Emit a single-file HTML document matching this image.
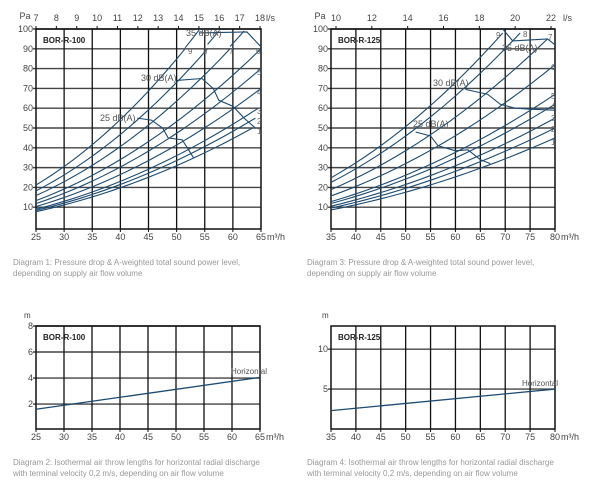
<!DOCTYPE html>
<html><head><meta charset="utf-8"><style>
body{margin:0;background:#fff;width:600px;height:493px;overflow:hidden}
svg{display:block;font-family:"Liberation Sans",sans-serif}
</style></head><body>
<svg id="s" width="600" height="493" viewBox="0 0 600 493" xmlns="http://www.w3.org/2000/svg">
<g font-size="8" fill="#999">
<text x="13" y="265">Diagram 1: Pressure drop &amp; A-weighted total sound power level,</text>
<text x="13" y="276">depending on supply air flow volume</text>
<text x="307" y="265">Diagram 3: Pressure drop &amp; A-weighted total sound power level,</text>
<text x="307" y="276">depending on supply air flow volume</text>
<text x="13" y="465">Diagram 2: Isothermal air throw lengths for horizontal radial discharge</text>
<text x="13" y="476">with terminal velocity 0,2 m/s, depending on air flow volume</text>
<text x="307" y="465">Diagram 4: Isothermal air throw lengths for horizontal radial discharge</text>
<text x="307" y="476">with terminal velocity 0,2 m/s, depending on air flow volume</text>
</g>
</svg>
<script>
var S=document.getElementById('s'),NS='http://www.w3.org/2000/svg';
function el(t,a,txt){var e=document.createElementNS(NS,t);for(var k in a)e.setAttribute(k,a[k]);if(txt!=null)e.textContent=txt;S.appendChild(e);return e;}
function chart(c){
 var X=function(q){return c.L+(q-c.x0)/(c.x1-c.x0)*(c.R-c.L)};
 var Y=function(v){return c.B-(v-c.y0)/(c.y1-c.y0)*(c.B-c.T)};
 c.X=X;c.Y=Y;
 c.yt.forEach(function(v){el('line',{x1:c.L-3,x2:c.R,y1:Y(v),y2:Y(v),stroke:'#444','stroke-width':1.4});
  el('text',{x:c.L-3,y:Y(v)+3,'font-size':9,fill:'#444','text-anchor':'end'},v)});
 for(var q=c.x0+c.dx;q<c.x1;q+=c.dx)el('line',{x1:X(q),x2:X(q),y1:c.T,y2:c.B,stroke:'#111','stroke-width':1.3});
 el('rect',{x:c.L,y:c.T,width:c.R-c.L,height:c.B-c.T,fill:'none',stroke:'#111','stroke-width':1.5});
 for(var q=c.x0;q<=c.x1;q+=c.dx){el('line',{x1:X(q),x2:X(q),y1:c.B,y2:c.B+3,stroke:'#111'});
  el('text',{x:X(q),y:c.B+11,'font-size':9,fill:'#444','text-anchor':'middle'},q)}
 el('text',{x:c.R+6,y:c.B+11,'font-size':9,fill:'#444'},'m³/h');
 el('text',{x:c.L+7,y:c.T+14,'font-size':8,'font-weight':'bold',fill:'#222'},c.name);
}
function pl(pts,c,w){el('polyline',{points:pts.map(function(p){return c.X(p[0])+','+c.Y(p[1])}).join(' '),fill:'none',stroke:'#1d4a70','stroke-width':w||1.1});}
function quad(c,q0,qe,pe){var a=[];for(var i=0;i<=20;i++){var q=q0+(qe-q0)*i/20;a.push([q,pe*(q/qe)*(q/qe)]);}pl(a,c);}
var c1={L:36,R:261,T:29,B:229,x0:25,x1:65,dx:5,y0:-1,y1:100,yt:[10,20,30,40,50,60,70,80,90,100],name:'BOR-R-100'};
chart(c1);
el('text',{x:25,y:19,'font-size':9,fill:'#444','text-anchor':'middle'},'Pa');
el('text',{x:266,y:21,'font-size':9,fill:'#444'},'l/s');
for(var l=7;l<=18;l++){var x=36+(l-7)/11*224;el('line',{x1:x,x2:x,y1:26,y2:29,stroke:'#111'});el('text',{x:x,y:21,'font-size':9,fill:'#444','text-anchor':'middle'},l);}
[[63.5,50],[64,55],[64.5,60],[65,70],[65,80],[65,90],[59.5,90],[55.5,90],[51.5,90]].forEach(function(d,i){quad(c1,25,d[0],d[1]);});
quad(c1,59.5,62,99);quad(c1,55.5,57.5,99);quad(c1,51.5,54,99.5);
[['1',257,134],['2',257,124],['3',257,114],['4',257,95],['5',257,75],['6',256,54],['7',229,54],['8',203,54],['9',188,54]].forEach(function(t){el('text',{x:t[1],y:t[2],'font-size':8,fill:'#666'},t[0])});
pl([[43,55],[45.5,54],[47.5,50],[48.5,45],[51,44],[53,35]],c1);
pl([[50,74],[54.5,75],[56.5,70],[57.5,64],[60,61],[62,55],[64,50]],c1);
pl([[54,98],[62.5,98.5],[65,91]],c1);
el('text',{x:100,y:121,'font-size':9,fill:'#555'},'25 dB(A)');
el('text',{x:141,y:81,'font-size':9,fill:'#555'},'30 dB(A)');
el('text',{x:186,y:36,'font-size':9,fill:'#555'},'35 dB(A)');
var c2={L:331,R:555,T:29,B:229,x0:35,x1:80,dx:5,y0:-1,y1:100,yt:[10,20,30,40,50,60,70,80,90,100],name:'BOR-R-125'};
chart(c2);
el('text',{x:320,y:19,'font-size':9,fill:'#444','text-anchor':'middle'},'Pa');
el('text',{x:563,y:21,'font-size':9,fill:'#444'},'l/s');
for(var l=10;l<=22;l+=2){var x=336+(l-10)/12*215;el('line',{x1:x,x2:x,y1:26,y2:29,stroke:'#111'});el('text',{x:x,y:21,'font-size':9,fill:'#444','text-anchor':'middle'},l);}
[[80,45],[80,50],[80,55],[80,62],[80,67],[80,82],[78.5,95],[73,98],[69.5,98]].forEach(function(d){quad(c2,35,d[0],d[1]);});
[['1',551,145],['2',551,132],['3',551,121],['4',551,109],['5',551,99],['6',551,70],['7',548,40],['8',523,37],['9',496,38]].forEach(function(t){el('text',{x:t[1],y:t[2],'font-size':8,fill:'#666'},t[0])});
pl([[52,48],[55,46],[56.5,41],[60,38.5],[62.5,39],[65,34],[67,32]],c2);
pl([[62,69.5],[66.5,67],[69,62],[72,60],[75,59.5],[80,59]],c2);
pl([[69.5,100],[71.5,94],[75,94.5],[78.5,95],[80,92]],c2);
el('text',{x:413,y:127,'font-size':9,fill:'#555'},'25 dB(A)');
el('text',{x:433,y:86,'font-size':9,fill:'#555'},'30 dB(A)');
el('text',{x:502,y:51,'font-size':9,fill:'#555'},'35 dB(A)');
var c3={L:36,R:260,T:326,B:429,x0:25,x1:65,dx:5,y0:0.08,y1:8,yt:[2,4,6,8],name:'BOR-R-100'};
chart(c3);
el('text',{x:24,y:318,'font-size':8,fill:'#444'},'m');
pl([[25,1.6],[65,4.05]],c3,1.3);
el('text',{x:231,y:374,'font-size':8,fill:'#555'},'Horizontal');
var c4={L:331,R:555,T:326,B:429,x0:35,x1:80,dx:5,y0:0,y1:12.9,yt:[5,10],name:'BOR-R-125'};
chart(c4);
el('text',{x:322,y:318,'font-size':8,fill:'#444'},'m');
pl([[35,2.3],[80,5]],c4,1.3);
el('text',{x:522,y:386,'font-size':8,fill:'#555'},'Horizontal');
</script>
</body></html>
